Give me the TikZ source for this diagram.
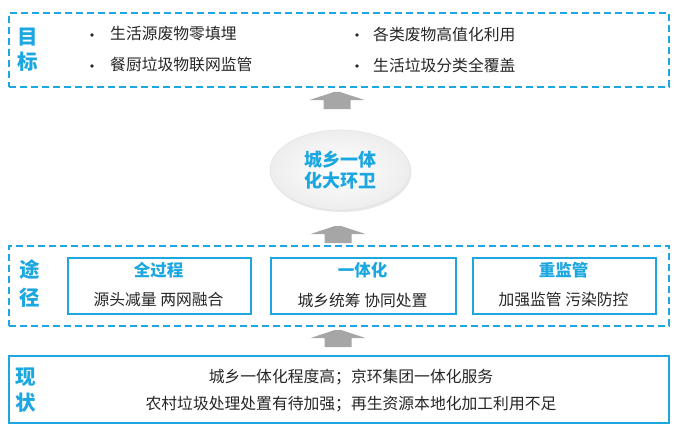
\documentclass[tikz,border=0pt]{standalone}
\usepackage{fontspec}
\setmainfont{Noto Sans CJK SC}
\usetikzlibrary{shapes.geometric,shadows}
\definecolor{tblue}{HTML}{1CA7E0}
\definecolor{ttext}{HTML}{262626}
\definecolor{tarrow}{HTML}{A6A6A6}
\begin{document}
\begin{tikzpicture}[x=1pt,y=-1pt,
  dashbox/.style={draw=tblue, line width=2.2pt, dash pattern=on 7pt off 4pt, anchor=north west, inner sep=0pt},
  solidbox/.style={draw=tblue, line width=2.2pt, anchor=north west, inner sep=0pt},
  innerbox/.style={draw=tblue, line width=2pt, anchor=north west, inner sep=0pt},
  side/.style={text=tblue, inner sep=0pt, font=\fontsize{20.5}{24}\selectfont\bfseries},
  body/.style={text=ttext, inner sep=0pt, font=\fontsize{15.8}{19}\selectfont},
  dot/.style={circle, fill=ttext, inner sep=0pt, minimum size=3.6pt},
  ptitle/.style={text=tblue, inner sep=0pt, font=\fontsize{16.5}{19}\selectfont\bfseries},
  blockarrow/.style={fill=tarrow}
]
\useasboundingbox (0,0) rectangle (675,428);

% boxes
\node[dashbox, minimum width=660pt, minimum height=74pt] (goal) at (8,12) {};
\node[dashbox, minimum width=660pt, minimum height=80pt] (path) at (8,245) {};
\node[solidbox, minimum width=660pt, minimum height=67pt] (now) at (8,355) {};

% goal
\node[side] (g1) at (28,37) {目};
\node[side] (g2) at (28,62) {标};
\node[dot] (d1) at (92,35) {};
\node[dot] (d2) at (92,66) {};
\node[dot] (d3) at (357,35) {};
\node[dot] (d4) at (357,66) {};
\node[body, anchor=west] (t1) at (110,34) {生活源废物零填埋};
\node[body, anchor=west] (t2) at (110,65) {餐厨垃圾物联网监管};
\node[body, anchor=west] (t3) at (373,34) {各类废物高值化利用};
\node[body, anchor=west] (t4) at (373,65) {生活垃圾分类全覆盖};

% centre ellipse
\node[ellipse, minimum width=140pt, minimum height=80pt, draw=gray!22, line width=0.6pt,
      inner color=white, outer color=gray!14, drop shadow={opacity=0.18, shadow xshift=1.5pt, shadow yshift=-2pt},
      text=tblue, align=center, font=\fontsize{18}{21}\selectfont\bfseries] (core) at (340,170)
      {城乡一体\\化大环卫};

% path
\node[side] (p1) at (30,270) {途};
\node[side] (p2) at (30,298) {径};
\node[innerbox, minimum width=183pt, minimum height=56pt] (q1) at (67,257) {};
\node[innerbox, minimum width=185pt, minimum height=56pt] (q2) at (270,257) {};
\node[innerbox, minimum width=183pt, minimum height=56pt] (q3) at (472,257) {};
\node[ptitle] (q1t) at (158.5,270) {全过程};
\node[ptitle] (q2t) at (362.5,270) {一体化};
\node[ptitle] (q3t) at (563.5,270) {重监管};
\node[body] (q1b) at (158.5,300) {源头减量 两网融合};
\node[body] (q2b) at (362.5,300) {城乡统筹 协同处置};
\node[body] (q3b) at (563.5,300) {加强监管 污染防控};

% current state
\node[side] (n1) at (26,377) {现};
\node[side] (n2) at (26,403) {状};
\node[body] (n3) at (351,377) {城乡一体化程度高；京环集团一体化服务};
\node[body] (n4) at (351,404) {农村垃圾处理处置有待加强；再生资源本地化加工利用不足};

% block arrows
\coordinate (a1) at (337,109);
\coordinate (a2) at (338,243);
\coordinate (a3) at (338,347);
\foreach \c in {a1,a2,a3}{
  \fill[blockarrow, shift={(\c)}] (-13.5,0) -- (-13.5,-9) -- (-27.5,-9) -- (-3,-17) -- (3,-17) -- (27.5,-9) -- (13.5,-9) -- (13.5,0) -- cycle;
}
\end{tikzpicture}
\end{document}
